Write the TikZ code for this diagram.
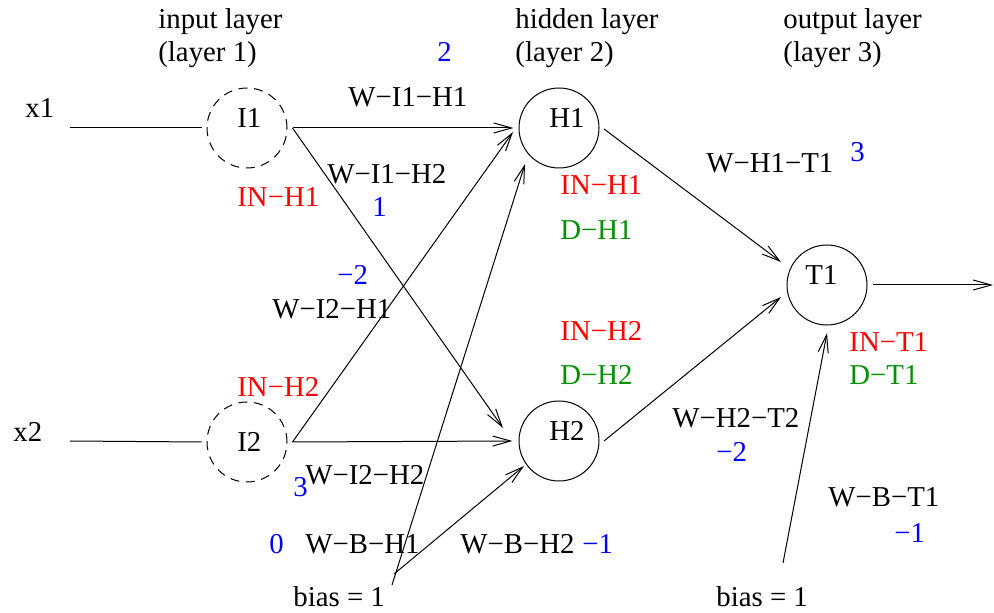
\documentclass[tikz,border=0pt]{standalone}
\usepackage{fontspec}
\setmainfont{Liberation Serif}
\usetikzlibrary{arrows.meta}
\definecolor{dgreen}{RGB}{0,144,0}
\begin{document}
\begin{tikzpicture}[x=0.5pt,y=-0.5pt,
  neuron/.style={circle,draw,line width=0.5pt,minimum size=40pt,inner sep=0pt},
  inneuron/.style={neuron,dash pattern=on 4.5pt off 3.3pt},
  lbl/.style={anchor=base west,inner sep=0pt,font=\fontsize{14.4}{17}\selectfont},
  wt/.style={lbl,text=blue},
  inl/.style={lbl,text=red},
  dl/.style={lbl,text=dgreen},
  conn/.style={line width=0.5pt,-{Straight Barb[length=9pt,width=5pt]}},
  plainline/.style={line width=0.5pt}]
\useasboundingbox (0,0) rectangle (994,613);

% neurons
\node[inneuron] (I1) at (247,128) {};
\node[inneuron] (I2) at (247,442) {};
\node[neuron] (H1) at (559,128) {};
\node[neuron] (H2) at (559,441) {};
\node[neuron] (T1) at (827,285) {};

% neuron names
\node[lbl] (tI1) at (237,128) {I1};
\node[lbl] (tI2) at (237,452) {I2};
\node[lbl] (tH1) at (549,128) {H1};
\node[lbl] (tH2) at (549,441) {H2};
\node[lbl] (tT1) at (805,285) {T1};

% layer headings
\node[lbl] (h1a) at (158,29) {input layer};
\node[lbl] (h1b) at (158,62) {(layer 1)};
\node[lbl] (h2a) at (515,29) {hidden layer};
\node[lbl] (h2b) at (515,62) {(layer 2)};
\node[lbl] (h3a) at (783,29) {output layer};
\node[lbl] (h3b) at (783,62) {(layer 3)};

% inputs
\node[lbl] (x1) at (25,118) {x1};
\node[lbl] (x2) at (13,442) {x2};
\coordinate (x1s) at (70,128);
\coordinate (x2s) at (70,441);
\draw[plainline] (x1s) -- ([xshift=-2.5pt]I1.west);
\draw[plainline] (x2s) -- ([xshift=-2.5pt]I2.west);

% bias points
\node[lbl] (bias1) at (293,606) {bias = 1};
\node[lbl] (bias2) at (716,606) {bias = 1};
\coordinate (b1a) at (392,585);
\coordinate (b1b) at (394,574);
\coordinate (b2a) at (783,563);

% connections
\draw[conn] ([xshift=2.5pt]I1.east) -- ([xshift=-2.5pt]H1.west);
\draw[conn] ([xshift=2.5pt]I1.east) -- ([shift={(-56,-13)}]H2.center);
\draw[conn] ([xshift=2.5pt]I2.east) -- ([shift={(-46,4)}]H1.center);
\draw[conn] ([xshift=2.5pt]I2.east) -- ([xshift=-3pt]H2.west);
\draw[conn] (b1a) -- ([shift={(-34,36)}]H1.center);
\draw[conn] (b1b) -- ([shift={(-35,25)}]H2.center);
\draw[conn] ([shift={(45,1)}]H1.center) -- ([shift={(-46,-23)}]T1.center);
\draw[conn] ([shift={(45,0)}]H2.center) -- ([shift={(-46,12)}]T1.center);
\draw[conn] (b2a) -- ([shift={(0,48)}]T1.center);
\coordinate (out) at (993,285);
\draw[conn] ([xshift=2.5pt]T1.east) -- (out);

% weight labels
\node[lbl] (wI1H1) at (348,107) {W−I1−H1};
\node[wt]  (v2)    at (437,62) {2};
\node[lbl] (wI1H2) at (327,184) {W−I1−H2};
\node[wt]  (v1)    at (372,217) {1};
\node[wt]  (vm2a)  at (337,285) {−2};
\node[lbl] (wI2H1) at (272,319) {W−I2−H1};
\node[wt]  (v3a)   at (293,497) {3};
\node[lbl] (wI2H2) at (305,485) {W−I2−H2};
\node[wt]  (v0)    at (269,553) {0};
\node[lbl] (wBH1)  at (305,553) {W−B−H1};
\node[lbl] (wBH2)  at (460,553) {W−B−H2};
\node[wt]  (vm1a)  at (582,553) {−1};
\node[lbl] (wH1T1) at (706,173) {W−H1−T1};
\node[wt]  (v3b)   at (850,162) {3};
\node[lbl] (wH2T2) at (672,428) {W−H2−T2};
\node[wt]  (vm2b)  at (716,462) {−2};
\node[lbl] (wBT1)  at (828,507) {W−B−T1};
\node[wt]  (vm1b)  at (894,542) {−1};

% net input / delta labels
\node[inl] (inH1a) at (237,207) {IN−H1};
\node[inl] (inH2a) at (237,397) {IN−H2};
\node[inl] (inH1b) at (560,195) {IN−H1};
\node[dl]  (dH1)   at (560,240) {D−H1};
\node[inl] (inH2b) at (560,341) {IN−H2};
\node[dl]  (dH2)   at (560,385) {D−H2};
\node[inl] (inT1)  at (849,352) {IN−T1};
\node[dl]  (dT1)   at (849,385) {D−T1};
\end{tikzpicture}
\end{document}
